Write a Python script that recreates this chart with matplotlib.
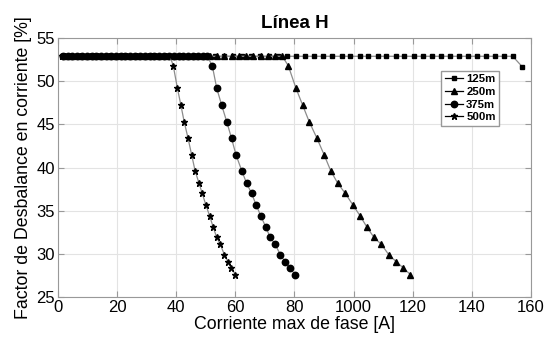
import numpy as np
import matplotlib
matplotlib.use("Agg")
import matplotlib.pyplot as plt

plt.rcParams['font.family'] = ['Liberation Sans', 'DejaVu Sans']

# corriente max de fase [A] y factor de desbalance [%]
x_125 = [1.3, 4.4, 7.4, 10.5, 13.5, 16.6, 19.6, 22.7, 25.7, 28.8, 31.8, 34.9, 37.9, 41.0,
         44.0, 47.1, 50.1, 53.2, 56.2, 59.3, 62.3, 65.4, 68.4, 71.5, 74.5, 77.6, 80.6, 83.7,
         86.7, 89.8, 92.8, 95.9, 98.9, 102.0, 105.0, 108.1, 111.1, 114.2, 117.2, 120.3,
         123.3, 126.4, 129.4, 132.5, 135.5, 138.6, 141.6, 144.7, 147.7, 150.8, 153.8, 157.0]
y_125 = [52.9] * 51 + [51.7]

x_250 = [2.4, 4.9, 7.3, 9.8, 12.2, 14.7, 17.1, 19.6, 22.0, 24.5, 26.9, 29.4, 31.8, 34.3,
         36.7, 39.2, 41.6, 44.1, 46.5, 49.0, 51.4, 53.9, 56.3, 58.8, 61.2, 63.7, 66.1, 68.6,
         71.0, 73.5, 75.9,
         77.9, 80.5, 82.8, 85.0, 87.6, 90.0, 92.3, 94.6, 97.2, 99.7, 102.2, 104.5, 106.9,
         109.4, 111.9, 114.4, 116.7, 119.2]
x_375 = [1.6, 3.3, 4.9, 6.5, 8.2, 9.8, 11.4, 13.0, 14.7, 16.3, 17.9, 19.6, 21.2, 22.8,
         24.5, 26.1, 27.7, 29.3, 31.0, 32.6, 34.2, 35.9, 37.5, 39.1, 40.8, 42.4, 44.0, 45.6,
         47.3, 48.9, 50.5,
         52.2, 53.7, 55.4, 57.1, 58.7, 60.2, 62.2, 63.8, 65.5, 67.0, 68.6, 70.3, 71.8, 73.5,
         75.2, 76.8, 78.4, 80.2]
x_500 = [1.2, 2.4, 3.7, 4.9, 6.1, 7.3, 8.6, 9.8, 11.0, 12.2, 13.5, 14.7, 15.9, 17.1,
         18.4, 19.6, 20.8, 22.0, 23.3, 24.5, 25.7, 26.9, 28.2, 29.4, 30.6, 31.8, 33.1, 34.3,
         35.5, 36.7, 37.9,
         39.0, 40.4, 41.6, 42.7, 44.0, 45.2, 46.4, 47.7, 48.8, 50.0, 51.3, 52.5, 53.7, 54.9,
         56.3, 57.5, 58.6, 60.0]
y_drop = [51.8, 49.2, 47.2, 45.3, 43.4, 41.5, 39.6, 38.2, 37.0, 35.7, 34.4, 33.1, 31.9,
          31.1, 29.9, 29.1, 28.4, 27.6]
y_250 = [52.9] * 31 + y_drop
y_375 = [52.9] * 31 + y_drop
y_500 = [52.9] * 31 + y_drop

xticks = [0, 20, 40, 60, 80, 100, 120, 140, 160]
xticklabels = ['0', '20', '40', '60', '80', '1000', '120', '140', '160']
yticks = [25, 30, 35, 40, 45, 50, 55]

fig = plt.figure(figsize=(5.52, 3.47), dpi=100)
ax = fig.add_axes([0.105, 0.144, 0.857, 0.746])

lc = '#8c8c8c'
ax.plot(x_125, y_125, '-s', color=lc, lw=0.9, mfc='k', mec='k', ms=3.2, label='125m')
ax.plot(x_250, y_250, '-^', color=lc, lw=0.9, mfc='k', mec='k', ms=4.8, label='250m')
ax.plot(x_375, y_375, '-o', color=lc, lw=0.9, mfc='k', mec='k', ms=4.6, label='375m')
ax.plot(x_500, y_500, '-*', color=lc, lw=0.9, mfc='k', mec='k', ms=4.6, label='500m')

ax.set_xlim(0, 160)
ax.set_ylim(25, 55)
ax.set_xticks(xticks)
ax.set_xticklabels(xticklabels)
ax.set_yticks(yticks)
ax.tick_params(direction='in', top=True, right=True, labelsize=12, color='#999999',
               length=4, pad=2)
ax.grid(True, color='#e3e3e3', lw=0.8)
for s in ax.spines.values():
    s.set_color('#999999')
    s.set_linewidth(0.8)

ax.set_title('Línea H', fontsize=13.5, fontweight='bold', pad=7)
ax.set_xlabel('Corriente max de fase [A]', fontsize=12.8, labelpad=1)
ax.set_ylabel('Factor de Desbalance en corriente [%]', fontsize=12.8, labelpad=3)

leg = ax.legend(loc='upper left', bbox_to_anchor=(0.81, 0.875),
                prop={'weight': 'bold', 'size': 8.2}, fancybox=False, framealpha=1,
                edgecolor='#999999', handlelength=1.6, handletextpad=0.3,
                labelspacing=0.25, borderpad=0.3, borderaxespad=0)
for h in leg.get_lines():
    h.set_color('k')

fig.savefig('out.png', dpi=100)
